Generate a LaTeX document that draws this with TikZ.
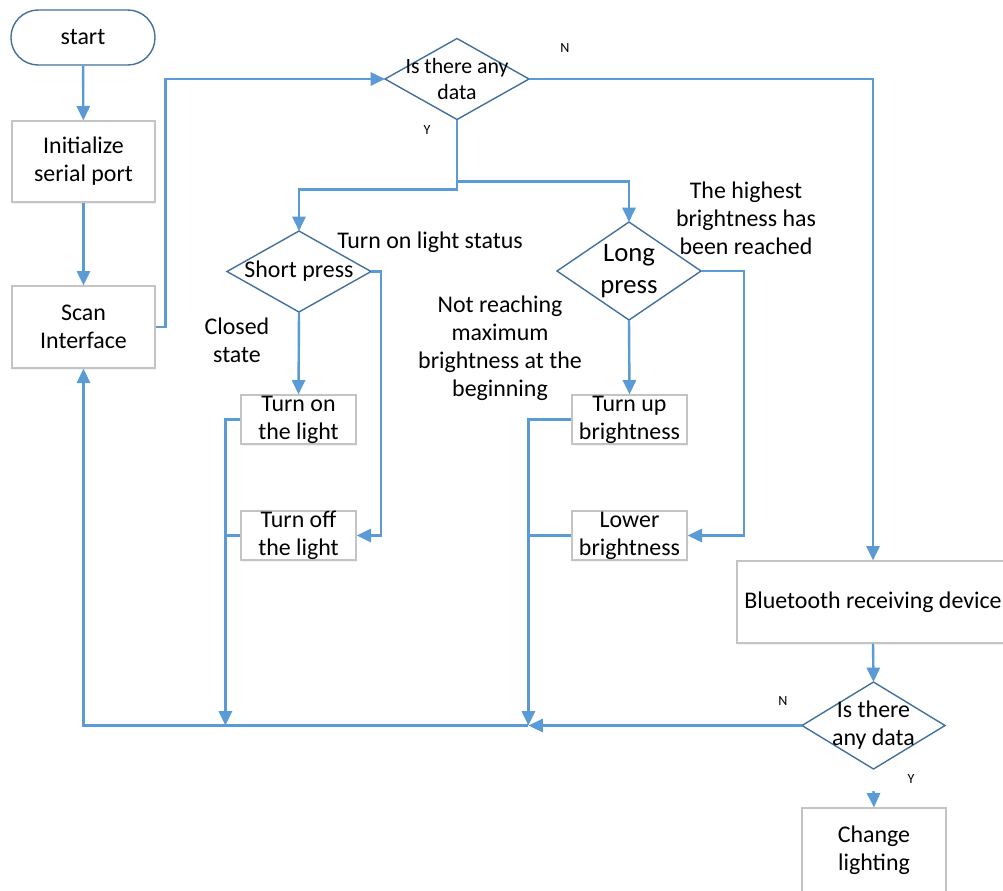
\documentclass[tikz,border=0pt]{standalone}
\usepackage{fontspec}
\setmainfont{Carlito}
\usetikzlibrary{positioning,arrows.meta,calc,shapes.geometric,shadows}
\definecolor{flowblue}{HTML}{5B9BD5}
\definecolor{edgeblue}{HTML}{41719C}
\definecolor{boxgray}{HTML}{C4C4C4}
\tikzset{
  txt/.style={font=\fontsize{17}{20}\selectfont,align=center},
  yn/.style={font=\fontsize{10}{12}\selectfont},
  terminal/.style={draw=edgeblue,line width=0.35mm,fill=white,rounded corners=6.8mm,minimum width=36mm,minimum height=13.75mm,inner sep=0pt,txt},
  process/.style={draw=boxgray,line width=0.3mm,fill=white,inner sep=0pt,txt,
    drop shadow={shadow xshift=0.2mm,shadow yshift=-0.6mm,fill=flowblue!50,opacity=0.25}},
  decision/.style={diamond,draw=edgeblue,line width=0.35mm,fill=white,inner sep=0pt,outer sep=0pt},
  line/.style={draw=flowblue,line width=0.6mm},
  >={Triangle[length=3.6mm,width=3.3mm]}
}
\begin{document}
\begin{tikzpicture}[x=0.25mm,y=-0.25mm]
  \useasboundingbox (0,0) rectangle (1003,890);
  \clip (0,0) rectangle (1003,890);

  \node [terminal] (start) at (83,37.5) {start};
  \node [process,minimum width=35.75mm,minimum height=20.25mm] (init) at (83.5,161.5) {Initialize\\serial port};
  \node [process,minimum width=35.75mm,minimum height=20.5mm] (scan) at (83.5,327) {Scan\\Interface};

  \node [decision,minimum width=36mm,minimum height=20.25mm,
    label={[txt,font=\fontsize{15.5}{18.5}\selectfont]center:Is there any\\data}] (d1) at (457,79) {};
  \node [decision,minimum width=36mm,minimum height=20.25mm,
    label={[txt]center:Short press}] (sp) at (299,271.5) {};
  \node [decision,minimum width=36mm,minimum height=24.5mm,
    label={[txt,font=\fontsize{19}{22.5}\selectfont]center:Long\\press}] (lp) at (629,271) {};

  \node [process,minimum width=28.75mm,minimum height=12.25mm] (on) at (298.5,419.5) {Turn on\\the light};
  \node [process,minimum width=28.75mm,minimum height=12.25mm] (off) at (298.5,535.5) {Turn off\\the light};
  \node [process,minimum width=28.75mm,minimum height=12.25mm] (up) at (629.5,419.5) {Turn up\\brightness};
  \node [process,minimum width=28.75mm,minimum height=12.25mm] (low) at (629.5,535.5) {Lower\\brightness};

  \node [process,minimum width=68mm,minimum height=20.5mm] (bt) at (873,602) {Bluetooth receiving device};
  \node [decision,minimum width=35.75mm,minimum height=21.75mm,
    label={[txt]center:Is there\\any data}] (d2) at (873.5,725.5) {};
  \node [process,minimum width=36mm,minimum height=21mm] (chg) at (874,850) {Change\\lighting};

  \node [yn] (n1) at (565,48) {N};
  \node [yn] (y1) at (427,130) {Y};
  \node [yn] (n2) at (783,701) {N};
  \node [yn] (y2) at (911,779) {Y};
  \node [txt] (onst) at (430,242) {Turn on light status};
  \node [txt] (closed) at (237,340) {Closed\\state};
  \node [txt] (notmax) at (500,348) {Not reaching\\maximum\\brightness at the\\beginning};
  \node [txt] (highest) at (746,218) {The highest\\brightness has\\been reached};

  \draw [->,line] (start) -- (init);
  \draw [->,line] (init) -- (scan);
  \draw [->,line] (scan.east) -- ++(10,0) |- (d1.west);
  \draw [->,line] (d1.east) -| (bt.north);
  \draw [->,line] (d1.south) -- ++(0,70) -| (sp.north);
  \draw [->,line] (d1.south) -- ++(0,62) -| (lp.north);
  \draw [->,line] (sp.south) -- (on.north);
  \draw [->,line] (sp.east) -- ++(10,0) |- (off.east);
  \draw [->,line] (lp.south) -- (up.north);
  \draw [->,line] (lp.east) -- ++(43,0) |- (low.east);
  \draw [->,line] (on.west) -- ++(-15,0) coordinate (lj) -- (lj |- d2.west);
  \draw [line] (off.west) -- (lj |- off.west);
  \draw [->,line] (up.west) -- ++(-43,0) coordinate (rj) -- (rj |- d2.west);
  \draw [line] (low.west) -- (rj |- low.west);
  \draw [->,line] (d2.west) -- (rj |- d2.west);
  \draw [->,line] (rj |- d2.west) -- (scan.south |- d2.west) -- (scan.south);
  \draw [->,line] (bt.south) -- (d2.north);
  \draw [->,line] ([yshift=-5.5mm]d2.south) -- (chg.north);
\end{tikzpicture}
\end{document}
